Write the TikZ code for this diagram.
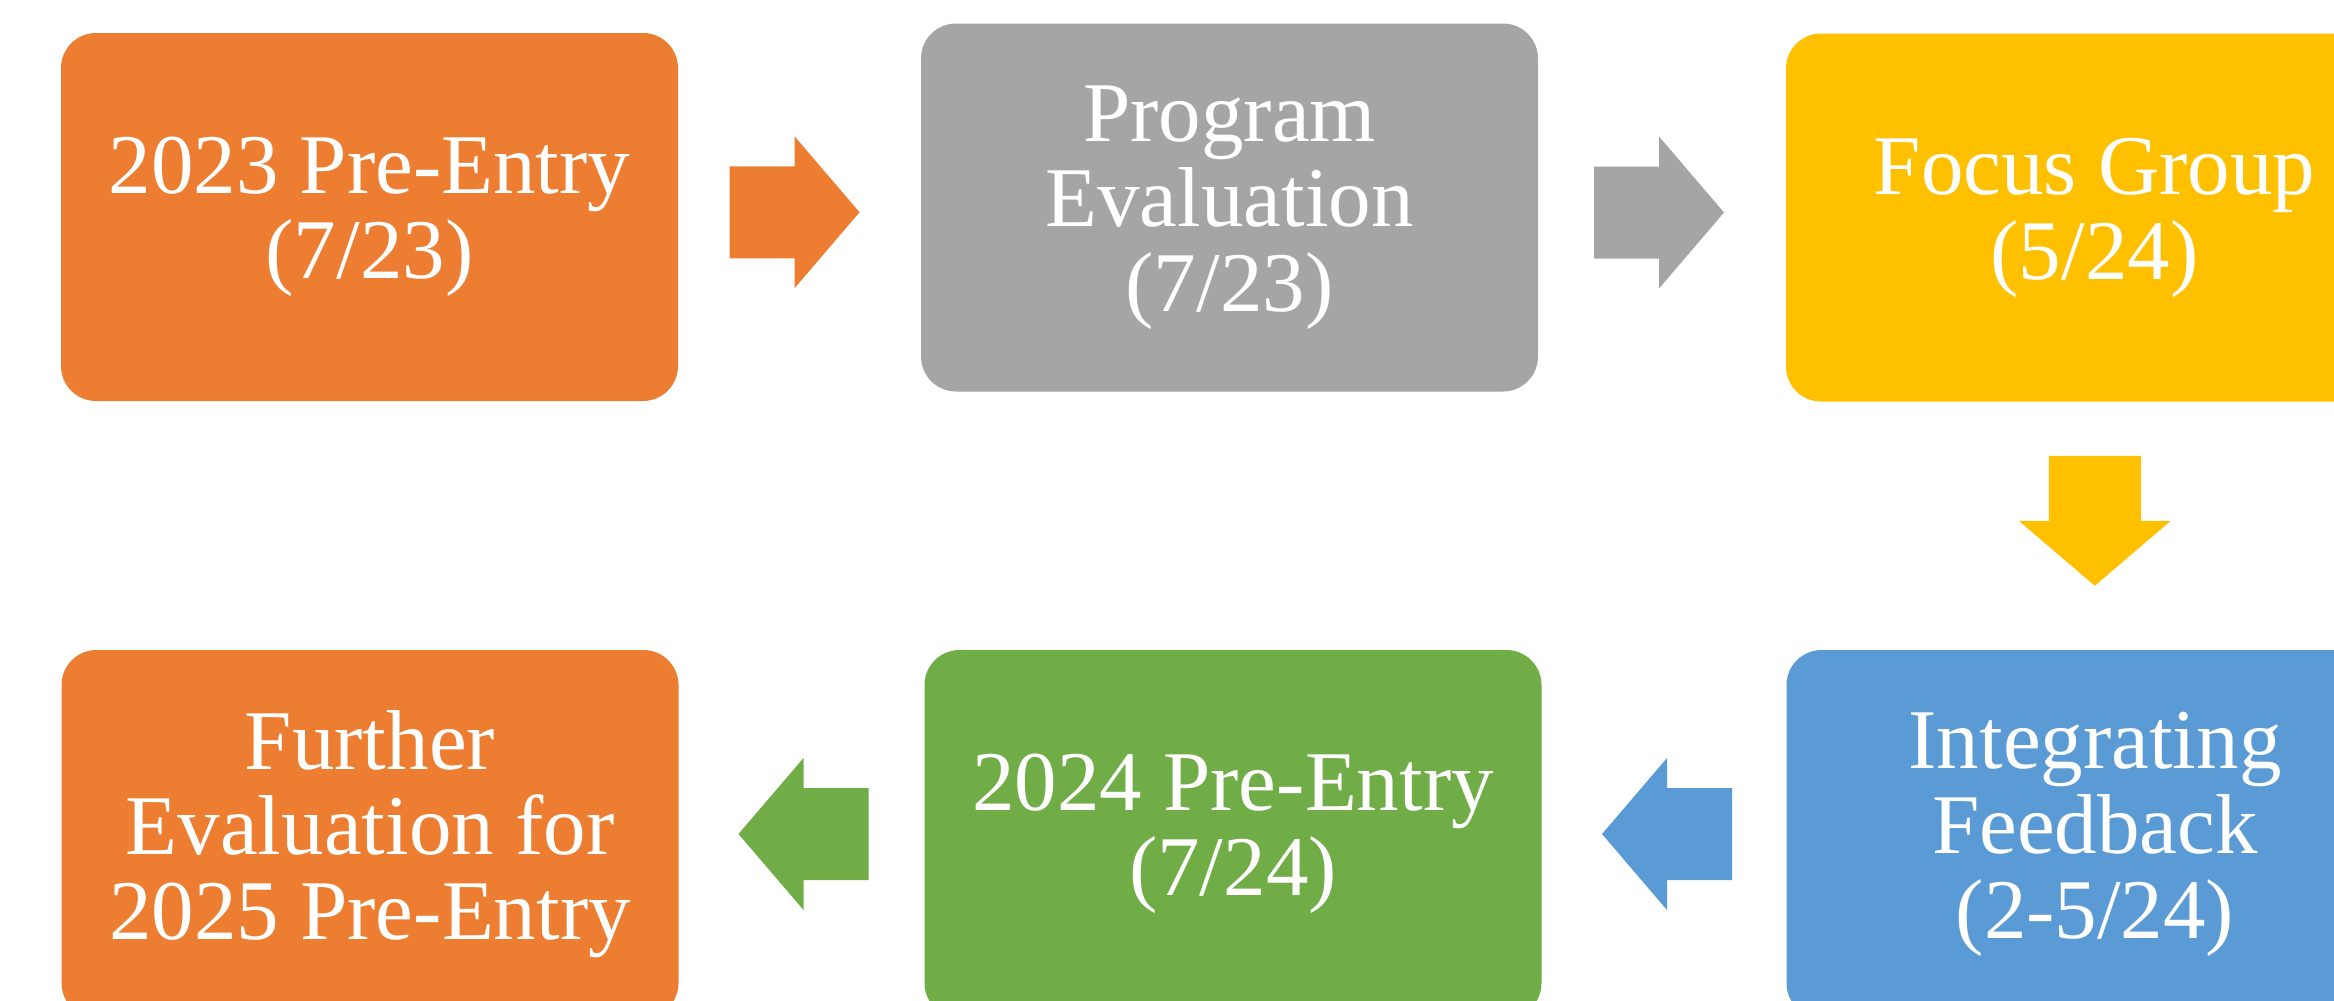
\documentclass[tikz,border=0pt]{standalone}
\usepackage{fontspec}
\setmainfont{Liberation Serif}
\usetikzlibrary{calc}

\definecolor{cOrange}{HTML}{ED7D31}
\definecolor{cGray}{HTML}{A5A5A5}
\definecolor{cYellow}{HTML}{FFC000}
\definecolor{cBlue}{HTML}{5B9BD5}
\definecolor{cGreen}{HTML}{70AD47}

\tikzset{
  stage/.style={rectangle, rounded corners=35pt, minimum width=617pt,
    minimum height=368pt, inner sep=0pt, align=center, text=white,
    font=\fontsize{85}{85}\selectfont},
  % block arrow centred on the origin, pointing right (+x)
  pics/blockarrow/.style={code={
    \fill[#1] (-65,-46) -- (0,-46) -- (0,-76) -- (65,0) -- (0,76)
      -- (0,46) -- (-65,46) -- cycle;}}
}

\begin{document}
\begin{tikzpicture}[x=1pt, y=-1pt]
\useasboundingbox (0,0) rectangle (2334,1001);
\clip (0,0) rectangle (2334,1001);

% stages
\node[stage, fill=cOrange] (b1) at (369.5,217)  {2023 Pre-Entry\\(7/23)};
\node[stage, fill=cGray]   (b2) at (1229.5,207.5) {Program\\Evaluation\\(7/23)};
\node[stage, fill=cYellow] (b3) at (2094.5,217.5) {Focus Group\\(5/24)};
\node[stage, fill=cBlue]   (b6) at (2095,834)   {Integrating\\Feedback\\(2-5/24)};
\node[stage, fill=cGreen]  (b5) at (1233,834)   {2024 Pre-Entry\\(7/24)};
\node[stage, fill=cOrange] (b4) at (370,834)    {Further\\Evaluation for\\2025 Pre-Entry};

% arrows between stages
\coordinate (a1) at ($(b1.east)!0.5!(b2.west)+(-5,0)$);
\coordinate (a2) at ($(b2.east)!0.5!(b3.west)+(-3,0)$);
\coordinate (a3) at ($(b3.south)!0.5!(b6.north)+(0,-5)$);
\coordinate (a4) at ($(b6.west)!0.5!(b5.east)+(3,0)$);
\coordinate (a5) at ($(b5.west)!0.5!(b4.east)+(2,0)$);

\pic at (a1) {blockarrow=cOrange};
\pic at (a2) {blockarrow=cGray};
\pic[rotate=-90] at (a3) {blockarrow=cYellow};
\pic[rotate=180] at (a4) {blockarrow=cBlue};
\pic[rotate=180] at (a5) {blockarrow=cGreen};
\end{tikzpicture}
\end{document}
